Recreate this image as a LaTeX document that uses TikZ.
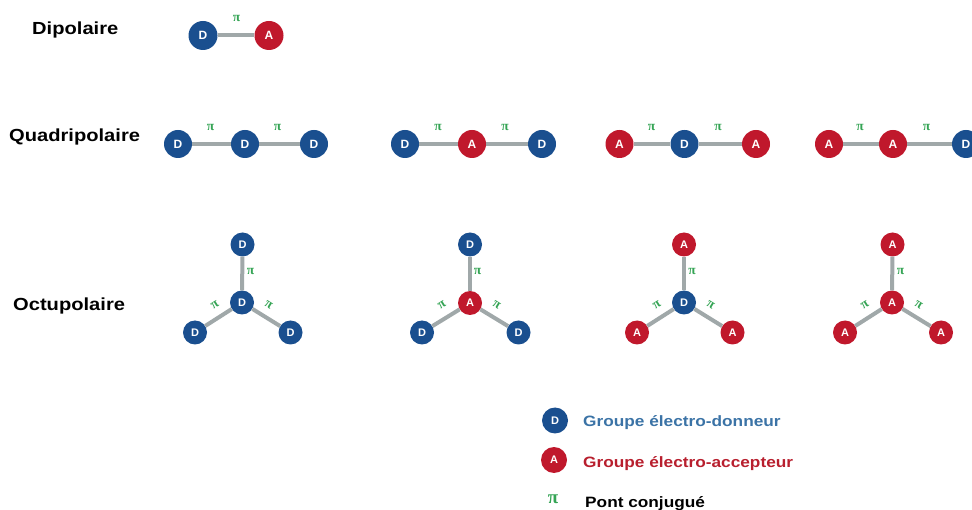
\documentclass[tikz,border=0pt]{standalone}
\usepackage{fontspec}
\setmainfont{Liberation Sans}
\newfontfamily\labfont{Liberation Sans}[FakeStretch=1.15]
\newfontfamily\pifont{Liberation Serif}
\definecolor{dblue}{HTML}{1A4F8F}
\definecolor{ared}{HTML}{C0182C}
\definecolor{bgray}{HTML}{A0A8A9}
\definecolor{pgreen}{HTML}{35A455}
\definecolor{legblue}{HTML}{3B73A6}
\definecolor{legred}{HTML}{B81F2E}
\newcommand{\pis}{{\pifont\bfseries π}}
\tikzset{
  grp/.style={circle, text=white, inner sep=0pt, minimum size=28pt,
    font=\bfseries\fontsize{12}{12}\selectfont},
  don/.style={grp, fill=dblue},
  acc/.style={grp, fill=ared},
  sm/.style={minimum size=24pt, font=\bfseries\fontsize{11}{11}\selectfont},
  bond/.style={draw=bgray, line width=4pt},
  pilab/.style={text=pgreen, inner sep=0pt, font=\fontsize{13.5}{14}\selectfont},
  rowlab/.style={anchor=base west, inner sep=0pt, font=\labfont\bfseries\fontsize{17.5}{18}\selectfont},
  legtext/.style={anchor=base west, inner sep=0pt, font=\labfont\bfseries\fontsize{15}{16}\selectfont}
}
\begin{document}
\begin{tikzpicture}[x=1pt,y=-1pt]
\useasboundingbox (0,0) rectangle (972,510);

% Row labels
\node[rowlab] (ldip) at (32,35) {Dipolaire};
\node[rowlab] (lquad) at (9,142) {Quadripolaire};
\node[rowlab] (loct) at (13,311) {Octupolaire};

% Dipolaire
\node[don, minimum size=29pt] (d1) at (203,35.5) {D};
\node[acc, minimum size=29pt] (d2) at (269,35.5) {A};
\draw[bond] (d1) -- (d2);
\node[pilab] (dp) at (236.5,18.5) {\pis};

% Quadripolaire group 1
\node[don] (q1a) at (178,144) {D};
\node[don] (q1b) at (245,144) {D};
\node[don] (q1c) at (314,144) {D};
\draw[bond] (q1a) -- (q1b);
\draw[bond] (q1b) -- (q1c);
\node[pilab] (q1p1) at (210.5,127.5) {\pis};
\node[pilab] (q1p2) at (277.5,127.5) {\pis};

% Quadripolaire group 2
\node[don] (q2a) at (405,144) {D};
\node[acc] (q2b) at (472,144) {A};
\node[don] (q2c) at (542,144) {D};
\draw[bond] (q2a) -- (q2b);
\draw[bond] (q2b) -- (q2c);
\node[pilab] (q2p1) at (438,127.5) {\pis};
\node[pilab] (q2p2) at (505,127.5) {\pis};

% Quadripolaire group 3
\node[acc] (q3a) at (619.5,144) {A};
\node[don] (q3b) at (684.5,144) {D};
\node[acc] (q3c) at (756,144) {A};
\draw[bond] (q3a) -- (q3b);
\draw[bond] (q3b) -- (q3c);
\node[pilab] (q3p1) at (651.5,127.5) {\pis};
\node[pilab] (q3p2) at (718,127.5) {\pis};

% Quadripolaire group 4
\node[acc] (q4a) at (829,144) {A};
\node[acc] (q4b) at (893,144) {A};
\node[don] (q4c) at (966,144) {D};
\draw[bond] (q4a) -- (q4b);
\draw[bond] (q4b) -- (q4c);
\node[pilab] (q4p1) at (860,127.5) {\pis};
\node[pilab] (q4p2) at (926.5,127.5) {\pis};

% Octupolaire group 1
\node[don, sm] (o1c) at (242,302.5) {D};
\node[don, sm] (o1t) at (242.5,244.5) {D};
\node[don, sm] (o1l) at (195,332.5) {D};
\node[don, sm] (o1r) at (290.5,332.5) {D};
\draw[bond] (o1c) -- (o1t);
\draw[bond] (o1c) -- (o1l);
\draw[bond] (o1c) -- (o1r);
\node[pilab] (o1pt) at (250.5,271.5) {\pis};
\node[pilab, rotate=32] (o1pl) at (215,305) {\pis};
\node[pilab, rotate=-32] (o1pr) at (268.5,305) {\pis};

% Octupolaire group 2
\node[acc, sm] (o2c) at (470,303) {A};
\node[don, sm] (o2t) at (470,244.5) {D};
\node[don, sm] (o2l) at (422,332.5) {D};
\node[don, sm] (o2r) at (518.5,332.5) {D};
\draw[bond] (o2c) -- (o2t);
\draw[bond] (o2c) -- (o2l);
\draw[bond] (o2c) -- (o2r);
\node[pilab] (o2pt) at (477.5,271.5) {\pis};
\node[pilab, rotate=32] (o2pl) at (442,305) {\pis};
\node[pilab, rotate=-32] (o2pr) at (496.5,305) {\pis};

% Octupolaire group 3
\node[don, sm] (o3c) at (684,302.5) {D};
\node[acc, sm] (o3t) at (684,244.5) {A};
\node[acc, sm] (o3l) at (637,332.5) {A};
\node[acc, sm] (o3r) at (732.5,332.5) {A};
\draw[bond] (o3c) -- (o3t);
\draw[bond] (o3c) -- (o3l);
\draw[bond] (o3c) -- (o3r);
\node[pilab] (o3pt) at (692,271.5) {\pis};
\node[pilab, rotate=32] (o3pl) at (657,305) {\pis};
\node[pilab, rotate=-32] (o3pr) at (710.5,305) {\pis};

% Octupolaire group 4
\node[acc, sm] (o4c) at (892,302.5) {A};
\node[acc, sm] (o4t) at (892.5,244.5) {A};
\node[acc, sm] (o4l) at (845,332.5) {A};
\node[acc, sm] (o4r) at (941,332.5) {A};
\draw[bond] (o4c) -- (o4t);
\draw[bond] (o4c) -- (o4l);
\draw[bond] (o4c) -- (o4r);
\node[pilab] (o4pt) at (900.5,271.5) {\pis};
\node[pilab, rotate=32] (o4pl) at (865,305) {\pis};
\node[pilab, rotate=-32] (o4pr) at (918.5,305) {\pis};

% Legend
\node[don, minimum size=26pt, font=\bfseries\fontsize{11}{11}\selectfont] (ld) at (555,420.5) {D};
\node[legtext, text=legblue] (ldt) at (583,427) {Groupe électro-donneur};
\node[acc, minimum size=26pt, font=\bfseries\fontsize{11}{11}\selectfont] (la) at (554,460) {A};
\node[legtext, text=legred] (lat) at (583,467) {Groupe électro-accepteur};
\node[pilab, font=\fontsize{19}{20}\selectfont] (lp) at (553,499) {\pis};
\node[legtext, text=black] (lpt) at (585,507) {Pont conjugué};
\end{tikzpicture}
\end{document}
